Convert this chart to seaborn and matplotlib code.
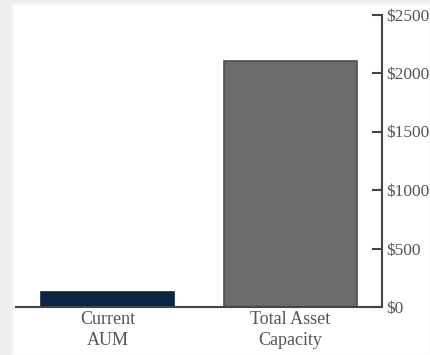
import matplotlib
matplotlib.use("Agg")
import matplotlib.pyplot as plt
import seaborn as sns
import pandas as pd
from matplotlib.patches import Rectangle

categories = ["Current\nAUM", "Total Asset\nCapacity"]
values = [130, 2100]
colors = ["#0b2545", "#6b6b6d"]
edge_colors = ["#0b2545", "#4f4f4f"]
tick_values = [0, 500, 1000, 1500, 2000, 2500]
tick_labels = ["$0", "$500", "$1000", "$1500", "$2000", "$2500"]

sns.set_theme(style="white")
plt.rcParams["font.family"] = ["Liberation Serif", "DejaVu Serif"]

fig = plt.figure(figsize=(4.3, 3.55), dpi=100, facecolor="#eeeeee")
W, H = 430, 355
# soft shadow card
for i, a in enumerate([0.2, 0.35, 0.5, 0.7, 1.0]):
    pad = 5 - i
    fig.patches.append(Rectangle(((16 - pad) / W, (H - 352 - pad) / H),
                                 (411 + 2 * pad) / W, (345 + 2 * pad) / H,
                                 transform=fig.transFigure, facecolor="white",
                                 edgecolor="none", alpha=a, zorder=-10))

ax = fig.add_axes([16 / W, (H - 307) / H, (382 - 16) / W, (307 - 14.5) / H])
ax.set_facecolor("none")
ax.set_zorder(5)
df = pd.DataFrame({"cat": categories, "val": values})
sns.barplot(data=df, x="cat", y="val", hue="cat", palette=colors, width=0.73,
            legend=False, ax=ax, saturation=1)
for patch, ec in zip(ax.patches, edge_colors):
    patch.set_edgecolor(ec)
    patch.set_linewidth(1.2)

ax.set_xlim(-0.5, 1.5)
ax.set_ylim(0, 2500)
ax.yaxis.tick_right()
ax.set_yticks(tick_values)
ax.set_yticklabels(tick_labels)
ax.tick_params(axis="y", direction="in", length=7, width=1.5, color="#444444",
               labelsize=12.5, labelcolor="#555555", pad=3, right=True, left=False)
ax.tick_params(axis="x", length=0, labelsize=13, labelcolor="#555555", pad=3)
for lbl in ax.get_xticklabels():
    lbl.set_linespacing(1.3)
ax.set_xlabel("")
ax.set_ylabel("")
for s in ["top", "left"]:
    ax.spines[s].set_visible(False)
for s in ["right", "bottom"]:
    ax.spines[s].set_visible(True)
    ax.spines[s].set_color("#444444")
    ax.spines[s].set_linewidth(1.5)

fig.savefig("out.png", dpi=100, facecolor=fig.get_facecolor())
